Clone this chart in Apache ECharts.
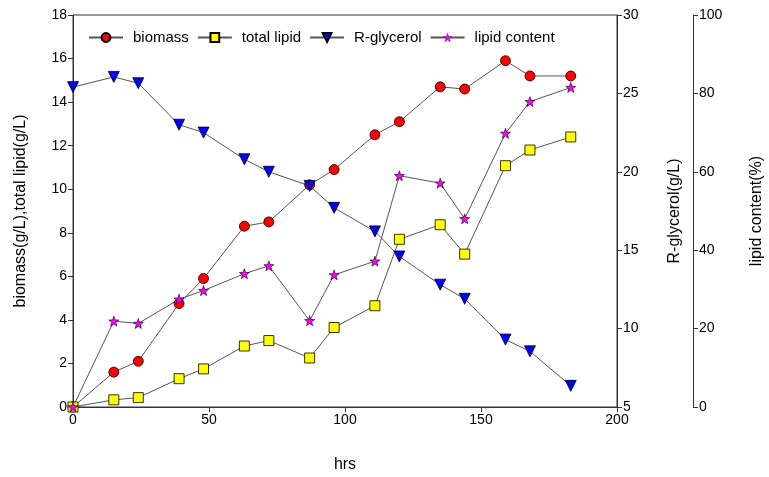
<!DOCTYPE html>
<html><head><meta charset="utf-8">
<script src="https://cdn.jsdelivr.net/npm/echarts@6/dist/echarts.min.js"></script>
<style>html,body{margin:0;padding:0;background:#fff}#c{width:769px;height:477px}</style>
</head><body><div id="c"></div>
<script>
const hours = [0, 15, 24, 39, 48, 63, 72, 87, 96, 111, 120, 135, 144, 159, 168, 183];
const biomass = [0, 1.6, 2.1, 4.75, 5.9, 8.3, 8.5, 10.2, 10.9, 12.5, 13.1, 14.7, 14.6, 15.9, 15.2, 15.2];
const totalLipid = [0, 0.33, 0.43, 1.3, 1.75, 2.8, 3.05, 2.25, 3.65, 4.65, 7.7, 8.37, 7.02, 11.08, 11.8, 12.4];
const rGlycerol = [25.4, 26.05, 25.65, 23.0, 22.5, 20.8, 20.0, 19.1, 17.7, 16.2, 14.6, 12.8, 11.9, 9.3, 8.55, 6.35];
const lipidContent = [0, 21.9, 21.3, 27.5, 29.7, 34.0, 36.0, 22.0, 33.7, 37.2, 59.0, 57.1, 48.0, 69.8, 77.9, 81.5];
const xTicks = {min: 0, max: 200, interval: 50};

const pair = arr => hours.map((h, i) => [h, arr[i]]);
const star = 'path://M0,-10 L2.35,-3.24 L9.51,-3.09 L3.8,1.24 L5.88,8.09 L0,4 L-5.88,8.09 L-3.8,1.24 L-9.51,-3.09 L-2.35,-3.24 Z';
const font = 'Arial, "Liberation Sans", sans-serif';
const axisCommon = {
  axisLine: {show: true, lineStyle: {color: '#333', width: 1}},
  axisTick: {show: true, inside: false, length: 5, lineStyle: {color: '#333'}},
  axisLabel: {color: '#000', fontSize: 14, fontFamily: font, margin: 6},
  splitLine: {show: false},
  nameTextStyle: {color: '#000', fontSize: 16, fontFamily: font},
  nameLocation: 'middle'
};
const lineStyle = {color: '#555', width: 1};
const chart = echarts.init(document.getElementById('c'), null, {renderer: 'canvas'});
chart.setOption({
  animation: false,
  backgroundColor: '#fff',
  grid: {left: 73, right: 152, top: 15, bottom: 70, show: true, borderColor: '#333', borderWidth: 1,
    containLabel: false, outerBoundsMode: 'none'},
  legend: {
    left: 83, top: 25, itemWidth: 34, itemHeight: 11, itemGap: 8,
    textStyle: {fontSize: 15, fontFamily: font, color: '#000', padding: [0, 0, 0, 5]},
    data: ['biomass', 'total lipid', 'R-glycerol',
      {name: 'lipid content', itemStyle: {color: '#ff00ff', borderColor: '#000', borderWidth: 0.3}}]
  },
  xAxis: Object.assign({}, axisCommon, {
    type: 'value', min: xTicks.min, max: xTicks.max, interval: xTicks.interval,
    name: 'hrs', nameGap: 50
  }),
  yAxis: [
    Object.assign({}, axisCommon, {type: 'value', min: 0, max: 18, interval: 2, position: 'left',
      name: 'biomass(g/L),total lipid(g/L)', nameGap: 44, nameRotate: 90}),
    Object.assign({}, axisCommon, {type: 'value', min: 5, max: 30, interval: 5, position: 'right',
      name: 'R-glycerol(g/L)', nameGap: 50, nameRotate: 90}),
    Object.assign({}, axisCommon, {type: 'value', min: 0, max: 100, interval: 20, position: 'right', offset: 76,
      name: 'lipid content(%)', nameGap: 56, nameRotate: 90})
  ],
  series: [
    {name: 'biomass', type: 'line', yAxisIndex: 0, data: pair(biomass), symbol: 'circle', symbolSize: 10,
      lineStyle: lineStyle, itemStyle: {color: '#ff0000', borderColor: '#000', borderWidth: 0.8}},
    {name: 'total lipid', type: 'line', yAxisIndex: 0, data: pair(totalLipid), symbol: 'rect', symbolSize: 10,
      lineStyle: lineStyle, itemStyle: {color: '#ffff00', borderColor: '#000', borderWidth: 0.8}},
    {name: 'R-glycerol', type: 'line', yAxisIndex: 1, data: pair(rGlycerol), symbol: 'triangle', symbolRotate: 180, symbolSize: 11,
      lineStyle: lineStyle, itemStyle: {color: '#0000ff', borderColor: '#000', borderWidth: 0.8}},
    {name: 'lipid content', type: 'line', yAxisIndex: 2, data: pair(lipidContent), symbol: star, symbolSize: 10,
      lineStyle: lineStyle, itemStyle: {color: '#ff00ff', borderColor: '#000', borderWidth: 0.6}}
  ]
});
</script></body></html>
